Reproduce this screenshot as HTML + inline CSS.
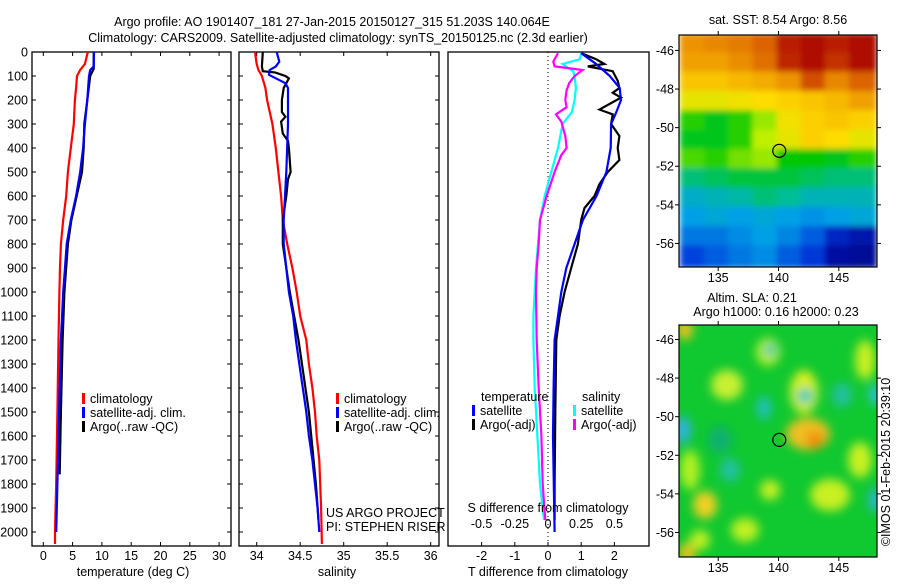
<!DOCTYPE html>
<html><head><meta charset="utf-8">
<style>
html,body{margin:0;padding:0;background:#fff;}
body{width:900px;height:580px;overflow:hidden;font-family:"Liberation Sans",sans-serif;}
svg text{font-family:"Liberation Sans",sans-serif;font-size:12.5px;fill:#000;}
</style></head>
<body>
<svg id="chart" xmlns="http://www.w3.org/2000/svg" width="900" height="580" viewBox="0 0 900 580">
<text x="332" y="26" text-anchor="middle">Argo profile: AO 1901407_181 27-Jan-2015 20150127_315 51.203S 140.064E</text>
<text x="338" y="42" text-anchor="middle">Climatology: CARS2009. Satellite-adjusted climatology: synTS_20150125.nc (2.3d earlier)</text>
<g id="g"></g>
</svg>
<script>
// ---------- data ----------
const depthTick = [0,100,200,300,400,500,600,700,800,900,1000,1100,1200,1300,1400,1500,1600,1700,1800,1900,2000];
const tempTicks = [0,5,10,15,20,25,30];
const salTicks = [34,34.5,35,35.5,36];
const tdiffTicks = [-2,-1,0,1,2];
const sdiffTicks = [-0.5,-0.25,0,0.25,0.5];
const sdiffLabels = ['-0.5','-0.25','0','0.25','0.5'];

const tClimD = [0,50,75,100,150,200,300,400,500,600,700,800,900,1000,1200,1500,1800,2000,2050];
const tClimV = [7.6,7.1,6.3,5.75,5.6,5.4,5.2,4.7,4.2,3.9,3.4,3.0,2.85,2.75,2.6,2.4,2.2,2.0,2.0];
const tSatD = [0,60,75,100,200,300,400,500,600,700,800,900,1000,1200,1500,1800,2000];
const tSatV = [8.65,8.6,8.0,7.8,7.5,7.1,6.8,6.3,5.6,4.7,4.0,3.7,3.4,3.0,2.7,2.4,2.2];
const tArgoD = [0,70,100,200,300,400,500,600,700,800,1000,1200,1500,1760];
const tArgoV = [8.6,8.6,8.0,7.5,7.0,6.9,6.6,5.7,4.8,4.2,3.6,3.3,3.0,2.8];

const sClimD = [0,50,75,100,150,200,300,400,500,600,700,800,900,1000,1100,1200,1300,1400,1500,1600,1700,1800,1900,2050];
const sClimV = [33.98,34.0,34.02,34.06,34.1,34.12,34.18,34.22,34.25,34.28,34.3,34.35,34.41,34.46,34.5,34.57,34.6,34.64,34.67,34.69,34.72,34.73,34.74,34.75];
const sSatD = [0,40,60,75,95,130,150,300,500,700,800,900,1000,1100,1200,1300,1400,1500,1600,1700,1800,1900,2000];
const sSatV = [34.23,34.26,34.22,34.15,34.14,34.33,34.36,34.36,34.34,34.31,34.31,34.34,34.37,34.42,34.45,34.49,34.53,34.57,34.6,34.64,34.67,34.7,34.72];
const sArgoD = [0,60,80,85,100,110,150,200,250,270,290,340,370,400,500,530,600,700,800,900,1000,1200,1500,1800,1950];
const sArgoV = [34.07,34.06,34.07,34.21,34.33,34.37,34.31,34.29,34.29,34.33,34.28,34.3,34.36,34.37,34.39,34.36,34.34,34.3,34.3,34.34,34.38,34.48,34.6,34.68,34.71];

const dTSatD = [5,30,50,100,150,200,250,300,400,500,600,700,800,900,1000,1100,1200,1400,1600,2000];
const dTSatV = [1.0,1.25,1.45,1.86,2.16,2.2,2.06,1.9,1.89,1.76,1.46,1.05,0.8,0.55,0.4,0.3,0.2,0.17,0.15,0.2];
const dTArgoD = [5,30,50,60,80,120,150,170,190,240,260,300,350,400,450,500,550,600,650,700,800,900,1000,1100,1200,1500,1800,1950];
const dTArgoV = [1.0,1.45,1.7,1.2,1.95,2.1,2.15,1.95,2.2,1.55,1.95,1.9,2.15,2.1,2.15,1.8,1.55,1.4,1.1,1.0,0.9,0.7,0.5,0.35,0.25,0.22,0.2,0.2];
const dSSatD = [5,30,50,80,100,150,200,250,300,400,500,600,700,800,900,1000,1100,1200,1400,1600,1800,1950];
const dSSatV = [0.25,0.24,0.11,0.19,0.2,0.21,0.2,0.18,0.11,0.075,0.025,-0.025,-0.06,-0.075,-0.09,-0.1,-0.11,-0.11,-0.1,-0.08,-0.06,-0.03];
const dSArgoD = [5,40,60,75,100,130,160,200,230,260,290,350,400,430,500,600,700,800,900,1000,1200,1400,1600,1800,1950];
const dSArgoV = [0.075,0.04,0.05,0.26,0.2,0.16,0.14,0.13,0.14,0.06,0.1,0.13,0.14,0.1,0.05,-0.01,-0.06,-0.07,-0.085,-0.09,-0.085,-0.07,-0.05,-0.04,-0.02];

const sstLon = [133,135,137,139,141,143,145,147];
const sstGrid = [
[.82,.84,.86,.9,.97,.99,.97,.99],
[.8,.8,.83,.88,.96,.99,.95,.99],
[.74,.74,.76,.78,.82,.92,.84,.9],
[.66,.66,.68,.7,.72,.74,.76,.8],
[.52,.48,.52,.58,.68,.72,.74,.72],
[.48,.48,.52,.6,.66,.72,.7,.66],
[.54,.52,.56,.58,.5,.5,.48,.52],
[.42,.44,.46,.46,.46,.44,.42,.42],
[.34,.36,.38,.42,.4,.36,.36,.36],
[.3,.32,.3,.32,.3,.28,.3,.32],
[.24,.24,.27,.3,.26,.2,.1,.06],
[.16,.2,.24,.27,.2,.14,.04,.02]];
const sstLat = [-45.7,-46.7,-47.7,-48.7,-49.7,-50.7,-51.7,-52.7,-53.7,-54.7,-55.7,-56.7];

// ---------- helpers ----------
const NS='http://www.w3.org/2000/svg';
const G=document.getElementById('g');
function mk(tag,attrs,parent){const e=document.createElementNS(NS,tag);for(const k in attrs)e.setAttribute(k,attrs[k]);(parent||G).appendChild(e);return e;}
function txt(x,y,s,anchor,parent){const t=mk('text',{x:x,y:y,'text-anchor':anchor||'start'},parent);t.textContent=s;return t;}
const yD = d => 52 + 0.24*d;
const TOP=52, BOT=546;
const xT = v => 43.3 + 5.86*v;
const xS = v => 256.7 + 87*(v-34);
const xDT = v => 548 + 33.2*v;
const xDS = v => 548 + 132.8*v;

function box(x0,x1,name){
  const r=mk('rect',{x:x0,y:TOP,width:x1-x0,height:BOT-TOP,fill:'none',stroke:'#000','stroke-width':1.3});
  
  
}
function depthTicks(x0,x1,labels){
  depthTick.forEach(d=>{
    mk('line',{x1:x0,y1:yD(d),x2:x0+4,y2:yD(d),stroke:'#000'});
    mk('line',{x1:x1-4,y1:yD(d),x2:x1,y2:yD(d),stroke:'#000'});
    if(labels){const t=txt(28,yD(d)+4.5,String(d),'end');
      
      }
  });
}
function xTicks(vals,fx,labs,y){
  vals.forEach((v,i)=>{
    mk('line',{x1:fx(v),y1:BOT,x2:fx(v),y2:BOT-4,stroke:'#000'});
    mk('line',{x1:fx(v),y1:TOP,x2:fx(v),y2:TOP+4,stroke:'#000'});
    const t=txt(fx(v),y,labs?labs[i]:String(v),'middle');
    
    
  });
}
function line(D,V,fx,color,name){
  const pts=D.map((d,i)=>fx(V[i]).toFixed(1)+','+yD(d).toFixed(1)).join(' ');
  const p=mk('polyline',{points:pts,fill:'none',stroke:color,'stroke-width':2.2,'stroke-linejoin':'miter'});
  
  
}
function legend(x,y,items){
  items.forEach((it,i)=>{
    mk('rect',{x:x,y:y+i*14-10,width:3,height:11,fill:it[0]});
    const t=txt(x+8,y+i*14,it[1]);
    
    
  });
}

// ---------- panel 1: temperature ----------
box(32,231,'temperature-panel');
depthTicks(32,231,true);
xTicks(tempTicks,xT,null,560);
let t1=txt(133,576,'temperature (deg C)','middle');


line(tClimD,tClimV,xT,'#f00','temp-climatology-line');
line(tArgoD,tArgoV,xT,'#000','temp-argo-line');
line(tSatD,tSatV,xT,'#00f','temp-satellite-line');
legend(82,403,[['#f00','climatology'],['#00f','satellite-adj. clim.'],['#000','Argo(..raw -QC)']]);

// ---------- panel 2: salinity ----------
box(239,439,'salinity-panel');
depthTicks(239,439,false);
xTicks(salTicks,xS,null,560);
let t2=txt(337,576,'salinity','middle');


line(sClimD,sClimV,xS,'#f00','sal-climatology-line');
line(sArgoD,sArgoV,xS,'#000','sal-argo-line');
line(sSatD,sSatV,xS,'#00f','sal-satellite-line');
legend(336,403,[['#f00','climatology'],['#00f','satellite-adj. clim.'],['#000','Argo(..raw -QC)']]);
let c1=txt(326,517,'US ARGO PROJECT');


let c2=txt(326,531,'PI: STEPHEN RISER');



// ---------- panel 3: differences ----------
box(448,649,'difference-panel');
tdiffTicks.forEach(v=>{mk('line',{x1:xDT(v),y1:BOT,x2:xDT(v),y2:BOT-4,stroke:'#000'});
  const t=txt(xDT(v),560,String(v),'middle');
  
  });
sdiffTicks.forEach((v,i)=>{const t=txt(xDS(v),528,sdiffLabels[i],'middle');
  
  });
mk('line',{x1:xDT(0),y1:TOP,x2:xDT(0),y2:BOT,stroke:'#000','stroke-width':1,'stroke-dasharray':'1,3'});
line(dSSatD,dSSatV,xDS,'#0ff','s-diff-satellite-line');
line(dSArgoD,dSArgoV,xDS,'#f0f','s-diff-argo-line');
line(dTArgoD,dTArgoV,xDT,'#000','t-diff-argo-line');
line(dTSatD,dTSatV,xDT,'#00f','t-diff-satellite-line');
let st=txt(548,512,'S difference from climatology','middle');


let tt=txt(548,576,'T difference from climatology','middle');


let lt=txt(481,401,'temperature');


let ls=txt(582,401,'salinity');


legend(472,415,[['#00f','satellite'],['#000','Argo(-adj)']]);
legend(573,415,[['#0ff','satellite'],['#f0f','Argo(-adj)']]);

// ---------- maps ----------
const cmapStops=[0,.15,.3,.4,.5,.6,.7,.8,.9,1];
const cmapCols=[[0,0,140],[0,60,220],[0,160,230],[0,190,150],[0,200,0],[190,240,0],[255,220,0],[240,160,0],[220,100,0],[170,0,0]];
function cmap(v){
  v=Math.max(0,Math.min(1,v));
  let i=0; while(i<cmapStops.length-2 && v>cmapStops[i+1]) i++;
  const f=(v-cmapStops[i])/(cmapStops[i+1]-cmapStops[i]);
  const a=cmapCols[i],b=cmapCols[i+1];
  return 'rgb('+a.map((c,k)=>Math.round(c+(b[k]-c)*f)).join(',')+')';
}
const MX0=679,MX1=877;
const xL = lon => MX0 + (lon-131.75)*12.06;
function mapAxes(y0,y1,latTop,name){
  const yL = lat => y0 + (latTop-lat)*19.3;
  const r=mk('rect',{x:MX0,y:y0,width:MX1-MX0,height:y1-y0,fill:'none',stroke:'#000','stroke-width':1.2});
  
  
  [135,140,145].forEach(l=>{mk('line',{x1:xL(l),y1:y1,x2:xL(l),y2:y1+4,stroke:'#000'});
    mk('line',{x1:xL(l),y1:y0,x2:xL(l),y2:y0-4,stroke:'#000'});
    const t=txt(xL(l),y1+15,String(l),'middle');
    
    });
  [-46,-48,-50,-52,-54,-56].forEach(l=>{mk('line',{x1:MX0-4,y1:yL(l),x2:MX0,y2:yL(l),stroke:'#000'});
    mk('line',{x1:MX1,y1:yL(l),x2:MX1+4,y2:yL(l),stroke:'#000'});
    const t=txt(674,yL(l)+4.5,String(l),'end');
    
    });
  const c=mk('circle',{cx:xL(140.064),cy:yL(-51.203),r:6.5,fill:'none',stroke:'#000','stroke-width':1.2});
  
  
  return yL;
}
const defs=mk('defs',{});
const f1=mk('filter',{id:'bl',x:'-0.1',y:'-0.1',width:'1.2',height:'1.2'},defs);
mk('feGaussianBlur',{stdDeviation:'3'},f1);
const cp1=mk('clipPath',{id:'cp1'},defs); mk('rect',{x:MX0,y:35,width:MX1-MX0,height:232},cp1);
const cp2=mk('clipPath',{id:'cp2'},defs); mk('rect',{x:MX0,y:325,width:MX1-MX0,height:232},cp2);

// top SST map
const gs=mk('g',{'clip-path':'url(#cp1)'});


const yL1 = lat => 35 + (-45.2-lat)*19.3;
const gsb=mk('g',{filter:'url(#bl)'},gs);
sstGrid.forEach((row,ri)=>row.forEach((v,ci)=>{
  mk('rect',{x:xL(sstLon[ci]-1)-2,y:yL1(sstLat[ri]+0.5)-2,width:28,height:23,fill:cmap(v)},gsb);
}));
mapAxes(35,267,-45.2,'sst-map-frame');
let mt=txt(778,24,'sat. SST: 8.54 Argo: 8.56','middle');



// bottom SLA map
const ga=mk('g',{'clip-path':'url(#cp2)'});


mk('rect',{x:MX0,y:325,width:198,height:232,fill:'#10c830'},ga);
const f2=mk('filter',{id:'bl2'},defs); mk('feGaussianBlur',{stdDeviation:'5'},f2);
const gab=mk('g',{filter:'url(#bl2)'},ga);
const blobs=[[804,392,14,22,'#d8f020'],[768,352,12,14,'#b8f020'],[727,385,16,15,'#c8f030'],[808,434,22,16,'#f0c020'],[815,440,9,9,'#f09010'],
[705,505,12,14,'#f0d020'],[690,470,10,20,'#b0f020'],[745,530,14,12,'#c0f020'],[830,495,20,16,'#c8f020'],[860,460,12,18,'#c8f020'],[865,360,10,20,'#c8f020'],
[685,330,8,10,'#f0c020'],[687,553,8,10,'#f0c020'],[770,490,10,10,'#c8f020'],[700,540,10,10,'#c0f020'],
[805,396,8,8,'#30c8c0'],[730,470,10,12,'#20c0a0'],[764,408,7,12,'#20c0c0'],[842,395,10,12,'#20c0a0'],[683,430,8,14,'#30b0e0'],[875,395,6,10,'#30c0e0'],[875,500,6,12,'#30b0e0'],[770,350,6,6,'#30c0c0'],[720,440,12,14,'#10b070']];
blobs.forEach(b=>mk('ellipse',{cx:b[0],cy:b[1],rx:b[2],ry:b[3],fill:b[4]},gab));
mapAxes(325,557,-45.25,'sla-map-frame');
let at=txt(752,302,'Altim. SLA: 0.21','middle');


let at2=txt(776,316,'Argo h1000: 0.16 h2000: 0.23','middle');


let cr=txt(0,0,'\u00A9IMOS 01-Feb-2015 20:39:10','middle');
cr.setAttribute('transform','translate(890,462) rotate(-90)');


</script>
</body></html>
